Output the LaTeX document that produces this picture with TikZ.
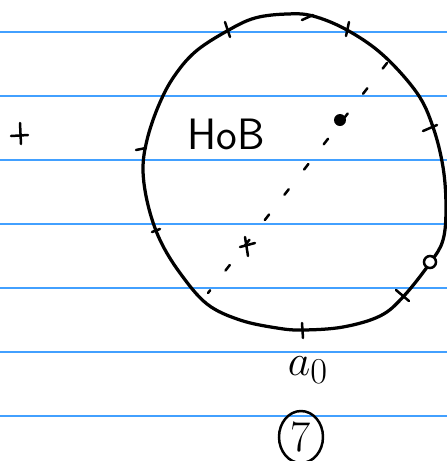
\documentclass[tikz,border=0pt]{standalone}
\usepackage{fontspec}
\usetikzlibrary{calc,shapes.geometric}
\definecolor{ruleblue}{RGB}{66,160,255}

\begin{document}
\begin{tikzpicture}[x=0.02cm,y=-0.02cm,
  pen/.style={line width=0.065cm,line cap=round,line join=round},
  tickmark/.style={line width=0.05cm,line cap=round}]
\useasboundingbox (0,0) rectangle (447,461);
\def\W{447}

%ruled paper:
\foreach \y in {32,96,...,416}
  \draw[ruleblue,line width=0.6pt] (0,\y) -- (\W,\y);

\coordinate (T) at (387,63);
\coordinate (B) at (208,293);
\coordinate (D) at (340,120);
\coordinate (X) at (247,245);

%the orbit
\draw[pen] plot[smooth cycle,tension=0.6] coordinates {
  (287,14) (313,16) (347,30) (383,55) (417,93) (433,127) (443,167)
  (446,207) (443,240) (430,263) (403,297) (380,316) (343,327) (303,330)
  (277,328) (240,320) (207,304) (180,273) (160,240) (148,205)
  (143,170) (147,140) (158,107) (173,78) (195,52) (227,31) (255,18)};

%ticks on it
\draw[tickmark] (225,22) -- (230,37);
\draw[tickmark] (349,22) -- (346,36);
\draw[tickmark] (302,20) -- (313,15);
\draw[tickmark] (423,131) -- (437,125);
\draw[tickmark] (136,150) -- (146,148);
\draw[tickmark] (152,232) -- (160,229);
\draw[tickmark] (396,290) -- (409,301);
\draw[tickmark] (302,323) -- (303,338);
\draw[tickmark,fill=white] (430,262) circle (6);

%diameter
\draw[line width=0.05cm,dash pattern=on 0.14cm off 0.5cm,line cap=round] (T) -- (B);
\fill (D) circle (6);
\draw[tickmark] ($(X)+(-7,2)$) -- ($(X)+(8,-2)$);
\draw[tickmark] ($(X)+(-2,-8)$) -- ($(X)+(1,11)$);

%cross on the left
\draw[tickmark] (11,136) -- (28,135);
\draw[tickmark] (20,123) -- (21,144);

%labels
\node[font=\sffamily\fontsize{25}{30}\selectfont] (hob) at (226,134) {HoB};
\node[font=\fontsize{30}{34}\selectfont] (azero) at (308,370) {$a_0$};
\node[draw,ellipse,line width=0.05cm,minimum width=0.88cm,minimum height=1.04cm,
  inner sep=0pt,font=\fontsize{25}{30}\selectfont] (seven) at (301,437) {7};

\end{tikzpicture}
\end{document}
